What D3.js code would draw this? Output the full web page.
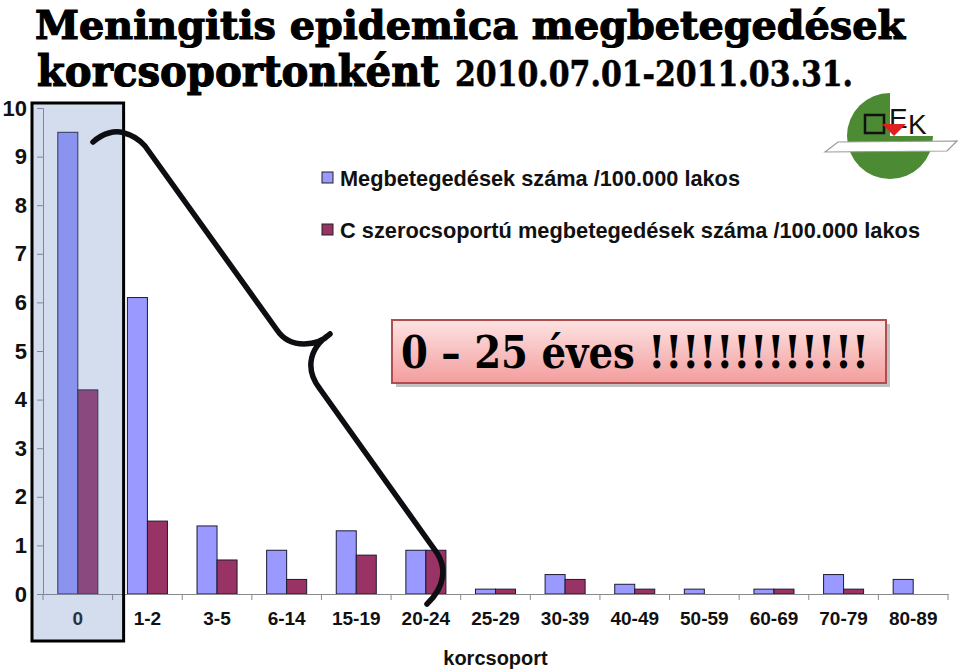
<!DOCTYPE html>
<html>
<head>
<meta charset="utf-8">
<script src="https://cdn.jsdelivr.net/npm/d3@7"></script>
<style>
  body { margin: 0; background: #fff; }
  svg { display: block; }
</style>
</head>
<body>
<div id="chart"></div>
<script>
// korcsoportok es ertekek /100.000 lakos
var categories = ["0", "1-2", "3-5", "6-14", "15-19", "20-24", "25-29", "30-39", "40-49", "50-59", "60-69", "70-79", "80-89"];
var totalRate = [9.5, 6.1, 1.4, 0.9, 1.3, 0.9, 0.1, 0.4, 0.2, 0.1, 0.1, 0.4, 0.3];
var serogroupC = [4.2, 1.5, 0.7, 0.3, 0.8, 0.9, 0.1, 0.3, 0.1, 0, 0.1, 0.1, 0];
var seriesNames = ["Megbetegedések száma /100.000 lakos", "C szerocsoportú megbetegedések száma /100.000 lakos"];
var yTicks = [0, 1, 2, 3, 4, 5, 6, 7, 8, 9, 10];

var W = 959, H = 670;
var margin = {top: 108, right: 11, bottom: 76, left: 43};
var colors = ["#9999ff", "#993366"];

var svg = d3.select("#chart").append("svg")
	.attr("width", W)
	.attr("height", H);

var defs = svg.append("defs");
var grad = defs.append("linearGradient").attr("id", "pink").attr("x1", 0).attr("y1", 0).attr("x2", 0).attr("y2", 1);
grad.append("stop").attr("offset", "0%").attr("stop-color", "#fde3e3");
grad.append("stop").attr("offset", "100%").attr("stop-color", "#f39d9d");

var x = d3.scaleBand()
	.domain(categories)
	.range([margin.left, W - margin.right])
	.paddingInner(0.425)
	.paddingOuter(0.2125);

var x1 = d3.scaleBand()
	.domain([0, 1])
	.range([0, x.bandwidth()]);

var y = d3.scaleLinear()
	.domain([0, 10])
	.range([H - margin.bottom, margin.top]);

var rows = categories.map(function(c, i) {
	return {cat: c, vals: [totalRate[i], serogroupC[i]]};
});

// oszlopok
var groups = svg.append("g").selectAll("g")
	.data(rows)
	.enter().append("g")
	.attr("transform", function(d) { return "translate(" + x(d.cat) + ",0)"; });

groups.selectAll("rect")
	.data(function(d) { return d.vals.map(function(v, k) { return {k: k, v: v}; }); })
	.enter().filter(function(d) { return d.v > 0; }).append("rect")
	.attr("x", function(d) { return x1(d.k); })
	.attr("y", function(d) { return y(d.v); })
	.attr("width", x1.bandwidth())
	.attr("height", function(d) { return y(0) - y(d.v); })
	.attr("fill", function(d) { return colors[d.k]; })
	.attr("stroke", "#1b1b33")
	.attr("stroke-width", 1);

// y tengely
var yAxis = svg.append("g")
	.attr("transform", "translate(" + margin.left + ",0)")
	.call(d3.axisLeft(y).tickValues(yTicks).tickSize(6).tickPadding(10).tickFormat(d3.format("d")));
yAxis.select(".domain").attr("stroke", "#8a8a8a");
yAxis.selectAll(".tick line").attr("stroke", "#8a8a8a");
yAxis.selectAll("text")
	.attr("font-family", "Liberation Sans, Arial, sans-serif")
	.attr("font-weight", "bold")
	.attr("font-size", 22)
	.attr("fill", "#111");

// x tengely
var step = x.step();
var xAxis = svg.append("g")
	.attr("transform", "translate(0," + y(0) + ")")
	.call(d3.axisBottom(x).tickSize(0).tickPadding(18));
xAxis.select(".domain").attr("stroke", "#8a8a8a");
xAxis.selectAll("text")
	.attr("font-family", "Liberation Sans, Arial, sans-serif")
	.attr("font-weight", "bold")
	.attr("font-size", 19)
	.attr("fill", "#111");

var bounds = categories.map(function(c) { return x(c) - step * x.paddingInner() / 2; });
bounds.push(W - margin.right);
xAxis.selectAll(".bound")
	.data(bounds)
	.enter().append("line")
	.attr("x1", function(d) { return d; })
	.attr("x2", function(d) { return d; })
	.attr("y1", 0)
	.attr("y2", 6)
	.attr("stroke", "#8a8a8a");

svg.append("text")
	.attr("x", (margin.left + W - margin.right) / 2)
	.attr("y", 665)
	.attr("text-anchor", "middle")
	.attr("font-family", "Liberation Sans, Arial, sans-serif")
	.attr("font-weight", "bold")
	.attr("font-size", 20)
	.attr("fill", "#111")
	.text("korcsoport");

// kiemelo doboz az elso korcsoporton
var bx0 = x(categories[0]) - step * x.paddingInner() / 2 - 11;
var bx1 = bx0 + step + 22;
svg.append("rect")
	.attr("x", bx0)
	.attr("y", 103)
	.attr("width", bx1 - bx0)
	.attr("height", 538)
	.attr("fill", "rgb(100,132,193)")
	.attr("fill-opacity", 0.28)
	.attr("stroke", "#000")
	.attr("stroke-width", 3);

// kapcsos zarojel
svg.append("path")
	.attr("d", "M93,142 C103,133 115,130 124,133 C132,135 138,138 145,146 L277,330 C283,339 292,344 304,344 C316,344 324,340 330,334 " +
		"M330,334 C318,342 312,352 311,362 C310,372 313,380 320,389 L437,553 C446,567 446,586 427,604")
	.attr("fill", "none")
	.attr("stroke", "#0d0d12")
	.attr("stroke-width", 5.5)
	.attr("stroke-linecap", "round")
	.attr("stroke-linejoin", "round");

// jelmagyarazat
var legend = svg.append("g");
var legendY = [186, 238];
seriesNames.forEach(function(name, i) {
	legend.append("rect")
		.attr("x", 322)
		.attr("y", legendY[i] - 14)
		.attr("width", 11)
		.attr("height", 11)
		.attr("fill", colors[i])
		.attr("stroke", "#222");
	legend.append("text")
		.attr("x", 340)
		.attr("y", legendY[i])
		.attr("font-family", "Liberation Sans, Arial, sans-serif")
		.attr("font-weight", "bold")
		.attr("font-size", 22)
		.attr("textLength", i == 0 ? 400 : 580)
		.attr("lengthAdjust", "spacingAndGlyphs")
		.attr("fill", "#111")
		.text(name);
});

// cim
var titleFont = function(t, size, len) {
	t.attr("font-family", "DejaVu Serif, serif")
		.attr("font-weight", "bold")
		.attr("font-size", size)
		.attr("textLength", len)
		.attr("lengthAdjust", "spacingAndGlyphs")
		.attr("fill", "#000")
		.attr("stroke", "#000")
		.attr("stroke-width", 1.2);
};
svg.append("text")
	.attr("x", 35).attr("y", 39)
	.call(titleFont, 40, 870)
	.text("Meningitis epidemica megbetegedések");
svg.append("text")
	.attr("x", 37).attr("y", 86)
	.call(titleFont, 42, 402)
	.text("korcsoportonként");
svg.append("text")
	.attr("x", 455).attr("y", 86)
	.call(titleFont, 36, 398)
	.attr("stroke-width", 0.6)
	.text("2010.07.01-2011.03.31.");

// felirat doboz
svg.append("rect")
	.attr("x", 396).attr("y", 324).attr("width", 494).attr("height", 63)
	.attr("fill", "#9a9a9a").attr("opacity", 0.6);
svg.append("rect")
	.attr("x", 392).attr("y", 320).attr("width", 494).attr("height", 63)
	.attr("fill", "url(#pink)")
	.attr("stroke", "#b24d4d")
	.attr("stroke-width", 2);
svg.append("text")
	.attr("x", 401).attr("y", 368)
	.attr("font-family", "DejaVu Serif, serif")
	.attr("font-weight", "bold")
	.attr("font-size", 44)
	.attr("textLength", 468)
	.attr("lengthAdjust", "spacingAndGlyphs")
	.attr("fill", "#000")
	.text("0 – 25 éves !!!!!!!!!!!!!");

// OEK logo
var logo = svg.append("g");
var cx = 890, cy = 136, r = 43;
logo.append("path")
	.attr("d", "M" + cx + "," + (cy - r) +
		" A" + r + "," + r + " 0 1,0 " + (cx + r) + "," + cy +
		" L" + cx + "," + cy + " Z")
	.attr("fill", "#4d8a34");
logo.append("path")
	.attr("d", "M825,152 L838,142 L957,141 L947,151 Z")
	.attr("fill", "#fff")
	.attr("stroke", "#999")
	.attr("stroke-width", 1.2);
logo.append("rect")
	.attr("x", 865).attr("y", 115).attr("width", 19).attr("height", 18)
	.attr("fill", "none").attr("stroke", "#111").attr("stroke-width", 2.5);
logo.append("text")
	.attr("x", 889).attr("y", 128)
	.attr("font-family", "Liberation Sans, Arial, sans-serif")
	.attr("font-size", 28)
	.attr("fill", "#111")
	.text("E");
logo.append("path")
	.attr("d", "M882,124 L906,124 L894,136 Z")
	.attr("fill", "#e02020");
logo.append("text")
	.attr("x", 908).attr("y", 134)
	.attr("font-family", "Liberation Sans, Arial, sans-serif")
	.attr("font-size", 28)
	.attr("fill", "#111")
	.text("K");
</script>
</body>
</html>
